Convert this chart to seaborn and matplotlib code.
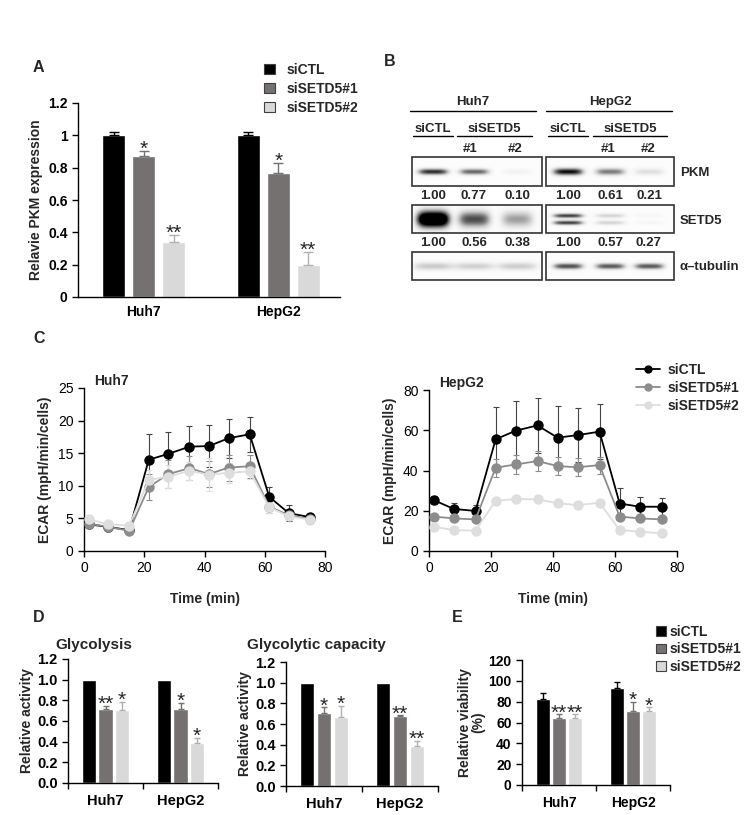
import numpy as np
import pandas as pd
import matplotlib
matplotlib.use("Agg")
import matplotlib.pyplot as plt
import seaborn as sns
from matplotlib.patches import Patch, Rectangle
from matplotlib.lines import Line2D

# groups / cell lines
groups = ["siCTL", "siSETD5#1", "siSETD5#2"]
cells = ["Huh7", "HepG2"]

# A: relative PKM expression (mean, sem)
pkm_mean = [[1.00, 0.87, 0.34], [1.00, 0.77, 0.20]]
pkm_err = [[0.02, 0.035, 0.045], [0.02, 0.06, 0.08]]
pkm_stars = [["", "*", "**"], ["", "*", "**"]]

# B: western blot quantification
huh7_pkm_q = [1.00, 0.77, 0.10]
hepg2_pkm_q = [1.00, 0.61, 0.21]
huh7_setd5_q = [1.00, 0.56, 0.38]
hepg2_setd5_q = [1.00, 0.57, 0.27]
huh7_tub = [1.00, 0.90, 0.95]
hepg2_tub = [1.00, 0.95, 0.95]

# C: ECAR time course
time_min = [1.5, 8, 15, 21.5, 28, 35, 41.5, 48, 55, 61.5, 68, 75]
huh7_ctl = [4.1, 3.7, 3.2, 14.0, 14.9, 16.0, 16.1, 17.3, 17.9, 8.3, 5.8, 5.2]
huh7_ctl_err = [0.6, 0.7, 0.5, 4.0, 3.3, 3.1, 3.2, 3.0, 2.7, 1.5, 1.2, 0.5]
huh7_si1 = [4.2, 3.7, 3.1, 9.8, 11.8, 12.7, 11.8, 12.8, 13.0, 6.8, 5.5, 4.9]
huh7_si1_err = [0.5, 0.6, 0.5, 2.0, 2.2, 1.8, 2.0, 2.0, 1.8, 0.9, 0.7, 0.5]
huh7_si2 = [4.9, 4.1, 3.9, 10.9, 11.4, 12.3, 11.7, 12.0, 12.2, 6.7, 5.3, 4.8]
huh7_si2_err = [0.5, 0.5, 0.5, 1.5, 1.8, 1.4, 2.5, 1.5, 1.2, 0.8, 0.6, 0.5]
hepg2_ctl = [25.3, 20.9, 19.9, 55.5, 59.8, 62.4, 56.3, 57.6, 59.3, 23.6, 22.0, 22.0]
hepg2_ctl_err = [2.0, 3.1, 3.0, 16.0, 14.7, 13.8, 15.7, 13.3, 13.5, 7.9, 4.7, 4.5]
hepg2_si1 = [17.1, 16.2, 15.7, 41.4, 43.0, 44.7, 42.2, 41.6, 42.7, 17.1, 16.2, 15.7]
hepg2_si1_err = [1.0, 1.0, 1.0, 4.5, 4.8, 4.8, 4.5, 4.5, 4.2, 1.0, 1.0, 1.0]
hepg2_si2 = [12.1, 10.4, 10.1, 25.0, 25.8, 25.7, 23.7, 22.8, 24.0, 10.4, 9.6, 8.8]
hepg2_si2_err = [0.5, 0.5, 0.5, 0.6, 0.6, 0.6, 0.6, 0.6, 0.6, 0.5, 0.5, 0.5]

# D: glycolysis / glycolytic capacity
gly_mean = [[1.00, 0.72, 0.71], [1.00, 0.72, 0.39]]
gly_err = [[0.0, 0.025, 0.075], [0.0, 0.055, 0.05]]
gly_stars = [["", "**", "*"], ["", "*", "*"]]
cap_mean = [[1.00, 0.71, 0.67], [1.00, 0.68, 0.39]]
cap_err = [[0.0, 0.05, 0.105], [0.0, 0.005, 0.05]]
cap_stars = [["", "*", "*"], ["", "**", "**"]]

# E: viability
via_mean = [[82.2, 64.0, 64.0], [92.8, 71.0, 71.0]]
via_err = [[6.4, 3.8, 3.8], [5.8, 9.0, 3.6]]
via_stars = [["", "**", "**"], ["", "*", "*"]]

bar_colors = ["#000000", "#767171", "#d9d9d9"]
err_colors = ["#000000", "#767171", "#b0b0b0"]
line_colors = ["#000000", "#8c8c8c", "#dedede"]

sns.set_style("ticks")
plt.rcParams["font.family"] = ["Liberation Sans", "DejaVu Sans"]
plt.rcParams["font.weight"] = "bold"
plt.rcParams["axes.labelweight"] = "bold"
plt.rcParams["axes.linewidth"] = 1.0
plt.rcParams["axes.edgecolor"] = "black"
plt.rcParams["xtick.color"] = "black"
plt.rcParams["ytick.color"] = "black"

W, H = 753, 815
fig = plt.figure(figsize=(W / 100, H / 100), dpi=100)


def px_axes(x0, y0, x1, y1):
    return fig.add_axes([x0 / W, 1 - y1 / H, (x1 - x0) / W, (y1 - y0) / H])


def bars(ax, means, errs, stars, width, gap, capsize):
    df = pd.DataFrame({
        "cell": np.repeat(cells, len(groups)),
        "group": groups * len(cells),
        "value": np.ravel(means),
    })
    sns.barplot(data=df, x="cell", y="value", hue="group", hue_order=groups,
                palette=bar_colors, saturation=1, width=width, gap=gap,
                errorbar=None, legend=False, ax=ax)
    rects = sorted(ax.patches, key=lambda p: p.get_x())
    flat_err = np.ravel(errs)
    flat_star = np.ravel(stars)
    for k, p in enumerate(rects):
        xc = p.get_x() + p.get_width() / 2
        h = p.get_height()
        e = flat_err[k]
        if e > 0:
            ax.errorbar(xc, h, yerr=[[0], [e]], fmt="none", ecolor=err_colors[k % 3],
                        elinewidth=1, capsize=capsize, capthick=1)
        if flat_star[k]:
            ax.annotate(flat_star[k], (xc, h + e), xytext=(0, -3), textcoords="offset points",
                        ha="center", va="baseline", fontsize=15, fontweight="normal")
    ax.set_xlabel("")
    sns.despine(ax=ax)


def bold_ticks(ax, size=10):
    for lbl in ax.get_xticklabels() + ax.get_yticklabels():
        lbl.set_fontweight("bold")
        lbl.set_fontsize(size)


# ---------------- A ----------------
axA = px_axes(78, 103, 340, 297)
bars(axA, pkm_mean, pkm_err, pkm_stars, 0.67, 0.23, 3.5)
axA.set_ylim(0, 1.2)
axA.set_xlim(-0.49, 1.46)
axA.set_yticks(np.arange(0, 1.21, 0.2))
axA.set_yticklabels([f"{v:g}" for v in np.round(np.arange(0, 1.21, 0.2), 1)])
axA.set_ylabel("Relavie PKM expression", fontsize=10)
axA.tick_params(axis="x", length=0, pad=6)
axA.tick_params(axis="y", length=4, width=1)
bold_ticks(axA)
handles = [Patch(facecolor=c, edgecolor="#404040", linewidth=0.8) for c in bar_colors]
axA.legend(handles, groups, loc="upper left", bbox_to_anchor=(264 / W, 1 - 63 / H),
           bbox_transform=fig.transFigure, frameon=False, fontsize=10,
           handlelength=0.8, handleheight=0.8, labelspacing=0.35, handletextpad=0.8,
           borderaxespad=0, borderpad=0)

# ---------------- B (blot) ----------------
axB = px_axes(380, 80, 753, 300)
axB.set_xlim(380, 753)
axB.set_ylim(300, 80)
axB.axis("off")
fs_b = 9.5
axB.text(473, 102, "Huh7", ha="center", va="center", fontsize=fs_b)
axB.text(610, 102, "HepG2", ha="center", va="center", fontsize=fs_b)
axB.plot([410, 536], [111, 111], color="black", lw=1)
axB.plot([546, 672], [111, 111], color="black", lw=1)
for ctl_x, si_x, ul_ctl, ul_si, lanes in [
        (433, 494, (413, 453), (457, 532), (470, 515)),
        (568, 630, (548, 588), (593, 667), (608, 648))]:
    axB.text(ctl_x, 129, "siCTL", ha="center", va="center", fontsize=fs_b)
    axB.text(si_x, 129, "siSETD5", ha="center", va="center", fontsize=fs_b)
    axB.plot(ul_ctl, [136, 136], color="black", lw=1)
    axB.plot(ul_si, [136, 136], color="black", lw=1)
    axB.text(lanes[0], 149, "#1", ha="center", va="center", fontsize=fs_b)
    axB.text(lanes[1], 149, "#2", ha="center", va="center", fontsize=fs_b)

lane_x = {"Huh7": [433, 474, 517], "HepG2": [568, 610, 649]}
box_x = {"Huh7": (412, 542), "HepG2": (546, 674)}
rows = {"PKM": (157, 186), "SETD5": (205, 233), "tub": (252, 280)}


def blot(cell, row, levels, base, sy, double=False, sx=15):
    x0, x1 = box_x[cell]
    y0, y1 = rows[row]
    xs = np.arange(x0, x1, 0.5)
    ys = np.arange(y0, y1, 0.5)
    X, Y = np.meshgrid(xs, ys)
    yc = (y0 + y1) / 2
    img = np.zeros_like(X) + 0.02
    for cx, lv in zip(lane_x[cell], levels):
        px = np.exp(-((X - cx) / sx) ** 4)
        if double:
            py = np.exp(-((Y - yc + 3.5) / sy) ** 2) + np.exp(-((Y - yc - 3.5) / sy) ** 2)
        else:
            py = np.exp(-((Y - yc) / sy) ** 2)
        img += base * lv * px * py
    axB.imshow(np.clip(img, 0, 1), cmap="Greys", vmin=0, vmax=1, aspect="auto",
               extent=(x0, x1, y1, y0), interpolation="bilinear")
    axB.add_patch(Rectangle((x0, y0), x1 - x0, y1 - y0, fill=False, edgecolor="#333333", lw=1.2))


blot("Huh7", "PKM", huh7_pkm_q, 0.85, 3.0)
blot("HepG2", "PKM", hepg2_pkm_q, 0.95, 3.5)
blot("Huh7", "SETD5", np.array(huh7_setd5_q) ** 1.3, 1.6, 8.0, sx=16)
blot("HepG2", "SETD5", np.array(hepg2_setd5_q) ** 2, 0.8, 2.2, double=True)
blot("Huh7", "tub", huh7_tub, 0.3, 4.0, sx=20)
blot("HepG2", "tub", hepg2_tub, 0.75, 3.0)
for cell, q1, q2 in [("Huh7", huh7_pkm_q, huh7_setd5_q), ("HepG2", hepg2_pkm_q, hepg2_setd5_q)]:
    for cx, a, b in zip(lane_x[cell], q1, q2):
        axB.text(cx, 196, f"{a:.2f}", ha="center", va="center", fontsize=fs_b)
        axB.text(cx, 243, f"{b:.2f}", ha="center", va="center", fontsize=fs_b)
axB.text(680, 173, "PKM", ha="left", va="center", fontsize=fs_b)
axB.text(680, 221, "SETD5", ha="left", va="center", fontsize=fs_b)
axB.text(680, 267, "α–tubulin", ha="left", va="center", fontsize=fs_b)


# ---------------- C ----------------
def ecar(ax, series, errs, ymax, ystep, title):
    df = pd.DataFrame({
        "time": time_min * 3,
        "ecar": np.concatenate(series),
        "group": np.repeat(groups, len(time_min)),
    })
    for s, e, c in zip(series, errs, line_colors):
        ec = "#444444" if c == "#000000" else c
        ax.errorbar(time_min, s, yerr=e, fmt="none", ecolor=ec, elinewidth=0.8,
                    capsize=2.5, capthick=0.8, zorder=1)
    sns.lineplot(data=df, x="time", y="ecar", hue="group", hue_order=groups,
                 palette=line_colors, marker="o", markersize=7.5, markeredgewidth=0,
                 linewidth=1.3, errorbar=None, legend=False, ax=ax, zorder=3)
    ax.set_xlim(0, 80)
    ax.set_ylim(0, ymax)
    ax.set_xticks(range(0, 81, 20))
    ax.set_yticks(range(0, ymax + 1, ystep))
    ax.set_xlabel("Time (min)", fontsize=10, labelpad=12)
    ax.set_ylabel("ECAR (mpH/min/cells)", fontsize=10)
    ax.tick_params(length=4, width=1, labelsize=10)
    for lbl in ax.get_xticklabels() + ax.get_yticklabels():
        lbl.set_fontweight("normal")
    ax.text(0.04, 1.0, title, transform=ax.transAxes, ha="left", va="bottom",
            fontsize=10, fontweight="bold")
    sns.despine(ax=ax)


axC1 = px_axes(84, 388, 325, 551)
ecar(axC1, [huh7_ctl, huh7_si1, huh7_si2], [huh7_ctl_err, huh7_si1_err, huh7_si2_err], 25, 5, "Huh7")
axC2 = px_axes(429, 390, 677, 551)
ecar(axC2, [hepg2_ctl, hepg2_si1, hepg2_si2], [hepg2_ctl_err, hepg2_si1_err, hepg2_si2_err], 80, 20, "HepG2")
lhandles = [Line2D([0], [0], color=c, marker="o", markersize=5, lw=1.3) for c in line_colors]
axC2.legend(lhandles, groups, loc="upper left", bbox_to_anchor=(636 / W, 1 - 363 / H),
            bbox_transform=fig.transFigure, frameon=False, fontsize=10,
            handlelength=1.7, labelspacing=0.3, handletextpad=0.6, borderaxespad=0, borderpad=0)


# ---------------- D / E ----------------
def cat_axis(ax):
    ax.set_xlim(-0.5, 1.5)
    ax.set_xticks([-0.5, 0.5, 1.5], minor=True)
    ax.tick_params(axis="x", which="major", length=0, pad=8)
    ax.tick_params(axis="x", which="minor", length=4, width=1)
    ax.tick_params(axis="y", length=4, width=1)


axD1 = px_axes(68, 659, 218, 783)
bars(axD1, gly_mean, gly_err, gly_stars, 0.66, 0.15, 2.5)
axD1.set_ylim(0, 1.2)
axD1.set_yticks(np.arange(0, 1.21, 0.2))
axD1.set_yticklabels([f"{v:.1f}" for v in np.arange(0, 1.21, 0.2)])
axD1.set_ylabel("Relative activity", fontsize=10, labelpad=2)
cat_axis(axD1)
bold_ticks(axD1, 10.5)

axD2 = px_axes(286, 662, 438, 786)
bars(axD2, cap_mean, cap_err, cap_stars, 0.67, 0.18, 2.5)
axD2.set_ylim(0, 1.2)
axD2.set_yticks(np.arange(0, 1.21, 0.2))
axD2.set_yticklabels([f"{v:.1f}" for v in np.arange(0, 1.21, 0.2)])
axD2.set_ylabel("Relative activity", fontsize=10, labelpad=2)
cat_axis(axD2)
bold_ticks(axD2, 10.5)

axE = px_axes(522, 660, 670, 785)
bars(axE, via_mean, via_err, via_stars, 0.65, 0.12, 2.5)
axE.set_ylim(0, 120)
axE.set_yticks(range(0, 121, 20))
axE.set_ylabel("Relative viability\n(%)", fontsize=10, labelpad=2, linespacing=1.0)
cat_axis(axE)
bold_ticks(axE)
axE.legend(handles, groups, loc="upper left", bbox_to_anchor=(656 / W, 1 - 625 / H),
           bbox_transform=fig.transFigure, frameon=False, fontsize=10,
           handlelength=0.7, handleheight=0.7, labelspacing=0.25, handletextpad=0.3,
           borderaxespad=0, borderpad=0)

# titles and panel letters
fig.text(55 / W, 1 - 645 / H, "Glycolysis", ha="left", va="center", fontsize=11, fontweight="bold")
fig.text(247 / W, 1 - 645 / H, "Glycolytic capacity", ha="left", va="center", fontsize=11, fontweight="bold")
for letter, x, y in [("A", 33, 68), ("B", 384, 62), ("C", 33, 338), ("D", 33, 617), ("E", 452, 617)]:
    fig.text(x / W, 1 - y / H, letter, ha="left", va="center", fontsize=11.5, fontweight="bold")

fig.savefig("out.png", dpi=100)
